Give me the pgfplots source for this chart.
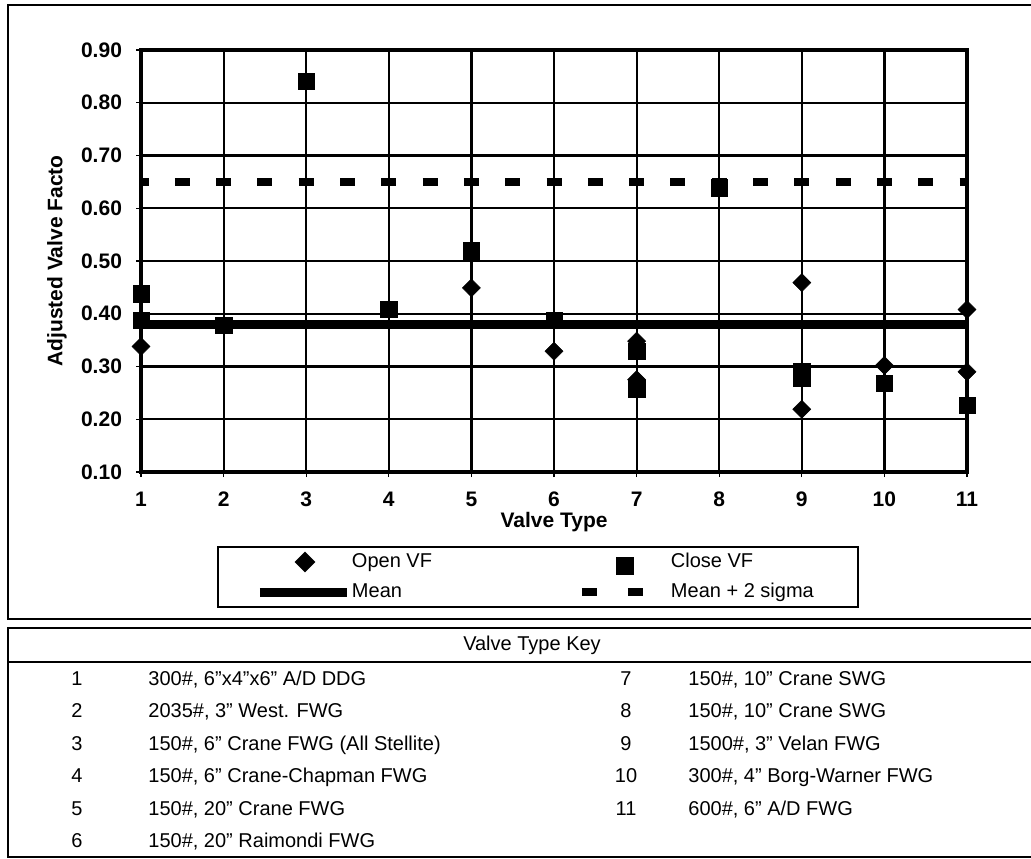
\documentclass[border=0pt]{standalone}
\usepackage{fontspec}
\setmainfont{Liberation Sans}
\usepackage{pgfplots}
\pgfplotsset{compat=1.18}
\begin{document}
\begin{tikzpicture}
\useasboundingbox (0pt,0pt) rectangle (515.5pt,-429pt);
\begin{scope}[x=0.5pt,y=-0.5pt]
% outer frame of chart
\draw[line width=1pt] (1040,5) -- (8,5) -- (8,619) -- (1040,619);
% table frame
\draw[line width=1pt] (1040,628) -- (8,628) -- (8,857) -- (1040,857);
\draw[line width=1pt] (8,662) -- (1040,662);
\begin{scope}[every node/.style={font=\fontsize{10}{12}\selectfont, inner sep=0pt}]
\node[anchor=base] at (532,650) {Valve Type Key};
\node[anchor=base] at (77,685) {1};   \node[anchor=base west] at (148,685) {300\#, 6"x4"x6" A/D DDG};
\node[anchor=base] at (77,717.5) {2}; \node[anchor=base west] at (148,717.5) {2035\#, 3" West. FWG};
\node[anchor=base] at (77,750) {3};   \node[anchor=base west] at (148,750) {150\#, 6" Crane FWG (All Stellite)};
\node[anchor=base] at (77,782.5) {4}; \node[anchor=base west] at (148,782.5) {150\#, 6" Crane-Chapman FWG};
\node[anchor=base] at (77,815) {5};   \node[anchor=base west] at (148,815) {150\#, 20" Crane FWG};
\node[anchor=base] at (77,847.5) {6}; \node[anchor=base west] at (148,847.5) {150\#, 20" Raimondi FWG};
\node[anchor=base] at (626,685) {7};    \node[anchor=base west] at (688,685) {150\#, 10" Crane SWG};
\node[anchor=base] at (626,717.5) {8};  \node[anchor=base west] at (688,717.5) {150\#, 10" Crane SWG};
\node[anchor=base] at (626,750) {9};    \node[anchor=base west] at (688,750) {1500\#, 3" Velan FWG};
\node[anchor=base] at (626,782.5) {10}; \node[anchor=base west] at (688,782.5) {300\#, 4" Borg-Warner FWG};
\node[anchor=base] at (626,815) {11};   \node[anchor=base west] at (688,815) {600\#, 6" A/D FWG};
\end{scope}
\end{scope}
\begin{axis}[
 scale only axis, width=413pt, height=211pt,
 at={(70.5pt,-236pt)}, anchor=south west,
 xmin=1, xmax=11, ymin=0.1, ymax=0.9,
 xtick={1,2,3,4,5,6,7,8,9,10,11},
 ytick={0.1,0.2,0.3,0.4,0.5,0.6,0.7,0.8,0.9},
 yticklabel style={xshift=-3.5pt, /pgf/number format/.cd, fixed, fixed zerofill, precision=2},
 /pgf/number format/assume math mode=true,
 tick label style={font=\fontsize{10.5}{12}\selectfont\bfseries},
 xticklabel style={yshift=-4pt},
 grid=major, major grid style={black, line width=1.1pt},
 axis line style={black, line width=1.6pt},
 tick style={black, line width=0.6pt}, tick align=outside, major tick length=2.5pt,
 xtick pos=bottom, ytick pos=left,
 xlabel={Valve Type}, ylabel={Adjusted Valve Facto},
 label style={font=\fontsize{10.5}{12}\selectfont\bfseries},
 xlabel style={at={(axis description cs:0.5,-0.1185)}, anchor=center},
 ylabel style={at={(axis description cs:-0.1017,0.5)}, anchor=center},
 clip=false,
 legend columns=2,
 legend cell align=left,
 legend style={at={(0.0932,-0.1777)}, anchor=north west, draw=black, line width=1pt,
   inner sep=0pt, outer sep=0pt, font=\fontsize{10}{12}\selectfont,
   column sep=0pt, row sep=0pt, nodes={inner sep=0pt}},
]
\addplot[only marks, mark=diamond*, mark size=4.5pt,
  mark options={fill=black, draw=black, line width=0.3pt, xscale=1.33},
  legend image code/.code={
    \path[draw=none,fill=none] (0pt,-7.5pt) rectangle (67pt,7.5pt);
    \fill[black] (43.5pt,4.5pt) -- (48pt,0pt) -- (43.5pt,-4.5pt) -- (39pt,0pt) -- cycle;}]
coordinates {
(1,0.338) (5,0.449) (6,0.329) (7,0.348) (7,0.275) (9,0.459) (9,0.219)
(10,0.302) (11,0.408) (11,0.290)
};
\addlegendentry{\makebox[104pt][l]{Open VF}}
\addplot[only marks, mark=square*, mark size=4.1pt,
  mark options={fill=black, draw=black, line width=0.3pt},
  legend image code/.code={
    \path[draw=none,fill=none] (0pt,-7.5pt) rectangle (55.5pt,7.5pt);
    \fill[black] (28.5pt,-6pt) rectangle (36.5pt,2pt);}]
coordinates {
(1,0.438) (1,0.388) (2,0.378) (3,0.841) (4,0.408) (5,0.519) (6,0.388)
(7,0.329) (7,0.258) (8,0.639) (9,0.290) (9,0.278) (10,0.268) (11,0.227)
};
\addlegendentry{\makebox[93.5pt][l]{Close VF}}
\addplot[black, line width=4.6pt,
  legend image code/.code={
    \path[draw=none,fill=none] (0pt,-7.5pt) rectangle (67pt,7.5pt);
    \draw[black, solid, line width=4.5pt] (21pt,0pt) -- (64.5pt,0pt);}]
coordinates {(1,0.379) (11,0.379)};
\addlegendentry{\makebox[104pt][l]{Mean}}
\addplot[black, line width=4pt, line cap=butt, dash pattern=on 7.5pt off 13.15pt, dash phase=3.75pt,
  legend image code/.code={
    \path[draw=none,fill=none] (0pt,-7.5pt) rectangle (55.5pt,7.5pt);
    \draw[black, solid, line width=4pt] (11pt,0pt) -- (18.5pt,0pt) (34pt,0pt) -- (41.5pt,0pt);}]
coordinates {(1,0.650) (11,0.650)};
\addlegendentry{\makebox[93.5pt][l]{Mean + 2 sigma}}
\end{axis}
\end{tikzpicture}
\end{document}
